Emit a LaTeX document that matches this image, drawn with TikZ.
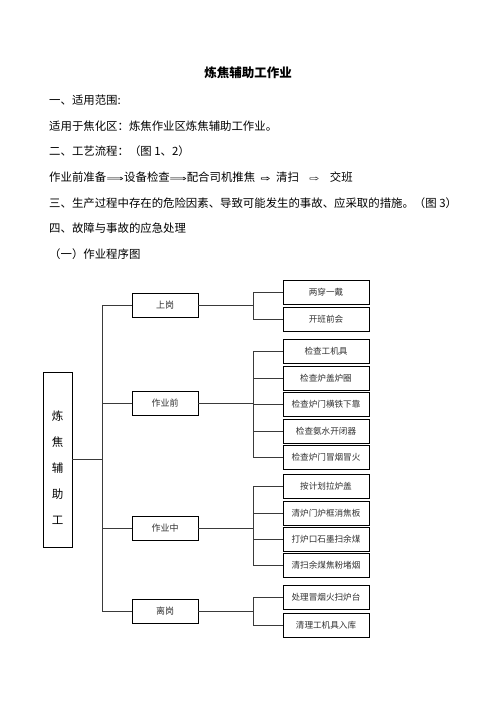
\documentclass[tikz,border=0pt]{standalone}
\usepackage{fontspec}
\setmainfont{Noto Sans CJK SC}
\newfontfamily\arrowfont{DejaVu Sans}
\usetikzlibrary{positioning}
\definecolor{mLine}{HTML}{3A3A3A}
\definecolor{mText}{HTML}{303030}
\newcommand{\flowarr}[2]{\makebox[#1]{\arrowfont\fontsize{8}{9}\selectfont\scalebox{1.5}[1]{#2}}}

\begin{document}
\begin{tikzpicture}[x=1pt, y=-1pt,
    txt/.style={anchor=west, inner sep=0pt, font=\fontsize{11.4}{13}\selectfont},
    topbox/.style={draw, line width=0.8pt, minimum width=66pt, minimum height=24pt, inner sep=0pt, text=mText, font=\fontsize{9}{10}\selectfont},
    subbox/.style={draw, line width=0.8pt, minimum width=86pt, minimum height=24pt, inner sep=0pt, text=mText, font=\fontsize{8.6}{10}\selectfont},
    link/.style={mLine, line width=0.7pt}]
    \useasboundingbox (0,0) rectangle (496,702);

    \node[font=\fontsize{12.5}{14}\selectfont\bfseries] (title) at (248,73) {炼焦辅助工作业};
    \foreach \y/\txt [count=\i] in {100/一、适用范围:, 126/适用于焦化区：炼焦作业区炼焦辅助工作业。,
        151/二、工艺流程：（图 1、2）, 203/三、生产过程中存在的危险因素、导致可能发生的事故、应采取的措施。（图 3）,
        228/四、故障与事故的应急处理, 254/（一）作业程序图}
      \node[txt] (line\i) at (49,\y) {\txt};
    \node[txt] (flow) at (49,177) {作业前准备\flowarr{18pt}{⟹}设备检查\flowarr{17pt}{⟹}配合司机推焦\flowarr{21pt}{\bfseries ⇨}清扫\flowarr{31pt}{⇨}交班};

    \node[draw, line width=0.8pt, minimum width=29pt, minimum height=175pt,
      label={[name=mainlbl, yshift=-8pt, align=center, font=\fontsize{11.5}{26}\selectfont]center:炼\\焦\\辅\\助\\工}] (main) at (57.5,459.5) {};

    \foreach \nm/\y/\txt in {up/305/上岗, pre/403.5/作业前, mid/528.5/作业中, off/611.5/离岗}
      \node[topbox] (\nm) at (165,\y) {\txt};

    \foreach \y/\txt [count=\i] in {292.5/两穿一戴, 319/开班前会}
      \node[subbox] (up\i) at (326,\y) {\txt};
    \foreach \y/\txt [count=\i] in {351/检查工机具, 378.5/检查炉盖炉圈, 404/检查炉门横铁下靠, 431/检查氨水开闭器, 457.5/检查炉门冒烟冒火}
      \node[subbox] (pre\i) at (326,\y) {\txt};
    \foreach \y/\txt [count=\i] in {486.5/按计划拉炉盖, 513/清炉门炉框消焦板, 539/打炉口石墨扫余煤, 565.5/清扫余煤焦粉堵烟}
      \node[subbox] (mid\i) at (326,\y) {\txt};
    \foreach \y/\txt [count=\i] in {597.5/处理冒烟火扫炉台, 625/清理工机具入库}
      \node[subbox] (off\i) at (326,\y) {\txt};

    \coordinate (bus) at (102,0);
    \coordinate (busR) at (253,0);
    \draw[link] (main.east) -- (main.east -| bus);
    \draw[link] (bus |- up.west) -- (bus |- off.west);
    \foreach \nm/\n in {up/2, pre/5, mid/4, off/2} {
      \draw[link] (bus |- \nm.west) -- (\nm.west);
      \draw[link] (\nm.east) -- (\nm.east -| busR);
      \draw[link] (busR |- \nm1.west) -- (busR |- \nm\n.west);
      \foreach \k in {1,...,\n}
        \draw[link] (busR |- \nm\k.west) -- (\nm\k.west);
    }
  \end{tikzpicture}
\end{document}
